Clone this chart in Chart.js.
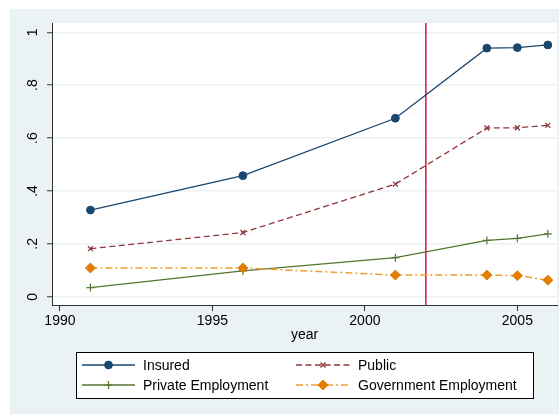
<!DOCTYPE html>
<html>
<head>
<meta charset="utf-8">
<script src="https://cdn.jsdelivr.net/npm/chart.js@4/dist/chart.umd.min.js"></script>
<style>
  html, body { margin: 0; padding: 0; background: #ffffff; }
  #wrap { position: relative; width: 559px; height: 414px; }
</style>
</head>
<body>
<div id="wrap"><canvas id="c" width="559" height="414"></canvas></div>
<script>
// ---- data ----
const years = [1991, 1996, 2001, 2004, 2005, 2006];
const insured = [0.328, 0.458, 0.675, 0.940, 0.942, 0.952];
const publicIns = [0.182, 0.243, 0.426, 0.638, 0.639, 0.648];
const privateEmp = [0.035, 0.098, 0.148, 0.213, 0.221, 0.238];
const governmentEmp = [0.109, 0.109, 0.082, 0.082, 0.080, 0.063];
const seriesNames = ['Insured', 'Public', 'Private Employment', 'Government Employment'];
const xTickValues = [1990, 1995, 2000, 2005];
const yTickValues = [0, 0.2, 0.4, 0.6, 0.8, 1];
const yTickLabels = ['0', '.2', '.4', '.6', '.8', '1'];
const policyYear = 2002;

const FONT = '"Liberation Sans", Arial, Helvetica, sans-serif';
const BG = '#eaf2f3';

function pts(vals) { return years.map((y, i) => ({ x: y, y: vals[i] })); }

const datasets = [
  { label: seriesNames[0], data: pts(insured), borderColor: '#1a476f', backgroundColor: '#1a476f',
    pointStyle: 'circle', pointRadius: 3.9, pointBorderWidth: 1, borderWidth: 1.3, order: 4, borderDash: [] },
  { label: seriesNames[1], data: pts(publicIns), borderColor: '#90353b', backgroundColor: '#90353b',
    pointStyle: 'crossRot', pointRadius: 3.5, pointBorderWidth: 1.3, borderWidth: 1.3, order: 3, borderDash: [6, 3.5] },
  { label: seriesNames[2], data: pts(privateEmp), borderColor: '#55752f', backgroundColor: '#55752f',
    pointStyle: 'cross', pointRadius: 4, pointBorderWidth: 1.2, borderWidth: 1.3, order: 2, borderDash: [] },
  { label: seriesNames[3], data: pts(governmentEmp), borderColor: '#eea035', backgroundColor: '#e37e00',
    pointBorderColor: '#e37e00', pointStyle: 'rectRot', pointRadius: 5, pointBorderWidth: 1, borderWidth: 1.5, order: 1, borderDash: [7, 3, 2, 3] }
];
datasets.forEach(d => { d.tension = 0; d.fill = false; d.pointHoverRadius = d.pointRadius; d.clip = 8; });

const bgPlugin = {
  id: 'bgPlugin',
  beforeDraw(chart) {
    const ctx = chart.ctx, a = chart.chartArea;
    ctx.save();
    ctx.fillStyle = '#ffffff';
    ctx.fillRect(0, 0, chart.width, chart.height);
    ctx.fillStyle = BG;
    ctx.fillRect(10, 9, chart.width - 10, chart.height - 9);
    ctx.fillStyle = '#ffffff';
    ctx.fillRect(a.left, a.top, a.right - a.left, a.bottom - a.top);
    ctx.restore();
  },
  beforeDatasetsDraw(chart) {
    const ctx = chart.ctx, a = chart.chartArea;
    const x = chart.scales.x.getPixelForValue(policyYear);
    ctx.save();
    ctx.strokeStyle = '#d3163f';
    ctx.lineWidth = 1.5;
    ctx.beginPath();
    ctx.moveTo(x, a.top);
    ctx.lineTo(x, a.bottom);
    ctx.stroke();
    ctx.restore();
  },
  afterDraw(chart) {
    const ctx = chart.ctx;
    const ys = chart.scales.y;
    // rotated y tick labels
    ctx.save();
    ctx.fillStyle = '#000';
    ctx.font = '14px ' + FONT;
    ctx.textAlign = 'center';
    ctx.textBaseline = 'middle';
    yTickValues.forEach((v, i) => {
      const py = ys.getPixelForValue(v);
      ctx.save();
      ctx.translate(33, py);
      ctx.rotate(-Math.PI / 2);
      ctx.fillText(yTickLabels[i], 0, 0);
      ctx.restore();
    });
    ctx.restore();

    // legend
    const bx = 76, by = 352, bw = 457, bh = 46;
    ctx.save();
    ctx.fillStyle = '#ffffff';
    ctx.fillRect(bx, by, bw, bh);
    ctx.strokeStyle = '#000';
    ctx.lineWidth = 1;
    ctx.strokeRect(bx + 0.5, by + 0.5, bw, bh);
    const cols = [{ x0: 82, x1: 135, tx: 143 }, { x0: 296, x1: 350, tx: 358 }];
    const rows = [365, 385];
    datasets.forEach((ds, k) => {
      const c = cols[k % 2], r = rows[Math.floor(k / 2)];
      ctx.save();
      ctx.strokeStyle = ds.borderColor;
      ctx.lineWidth = ds.borderWidth;
      ctx.setLineDash(ds.borderDash || []);
      ctx.beginPath();
      ctx.moveTo(c.x0, r);
      ctx.lineTo(c.x1, r);
      ctx.stroke();
      ctx.setLineDash([]);
      ctx.fillStyle = ds.backgroundColor;
      ctx.strokeStyle = ds.pointBorderColor || ds.borderColor;
      ctx.lineWidth = ds.pointBorderWidth || 1;
      Chart.helpers.drawPoint(ctx, {
        pointStyle: ds.pointStyle, rotation: 0, radius: ds.pointRadius, borderWidth: ctx.lineWidth
      }, (c.x0 + c.x1) / 2, r);
      ctx.restore();
      ctx.fillStyle = '#000';
      ctx.font = '14px ' + FONT;
      ctx.textAlign = 'left';
      ctx.textBaseline = 'middle';
      ctx.fillText(ds.label, c.tx, r + 1);
    });
    ctx.restore();
  }
};

const chart = new Chart(document.getElementById('c'), {
  type: 'line',
  data: { datasets },
  options: {
    responsive: false,
    animation: false,
    devicePixelRatio: 1,
    layout: { autoPadding: false, padding: { left: 10, top: 23, right: 2, bottom: 64 } },
    plugins: { legend: { display: false }, tooltip: { enabled: false } },
    scales: {
      x: {
        type: 'linear',
        min: 1989.74,
        max: 2006.3,
        afterBuildTicks(s) { s.ticks = xTickValues.map(v => ({ value: v })); },
        afterFit(s) { s.height = 45; s.paddingLeft = 0; s.paddingRight = 0; },
        ticks: {
          color: '#000', font: { family: FONT, size: 14 }, padding: 2, maxRotation: 0, minRotation: 0,
          callback: (v) => String(v)
        },
        grid: { drawOnChartArea: false, drawTicks: true, tickLength: 6, tickColor: '#333', tickWidth: 1 },
        border: { display: true, color: '#333', width: 1 },
        title: { display: true, text: 'year', color: '#000', font: { family: FONT, size: 14 }, padding: { top: 0, bottom: 6.5 } }
      },
      y: {
        type: 'linear',
        min: -0.031,
        max: 1.035,
        afterBuildTicks(s) { s.ticks = yTickValues.map(v => ({ value: v })); },
        afterFit(s) { s.width = 42; s.paddingTop = 0; s.paddingBottom = 0; },
        ticks: { display: false },
        grid: { drawOnChartArea: true, color: BG, lineWidth: 1.5, drawTicks: true, tickLength: 5, tickColor: '#333', tickWidth: 1 },
        border: { display: true, color: '#333', width: 1 }
      }
    }
  },
  plugins: [bgPlugin]
});
</script>
</body>
</html>
